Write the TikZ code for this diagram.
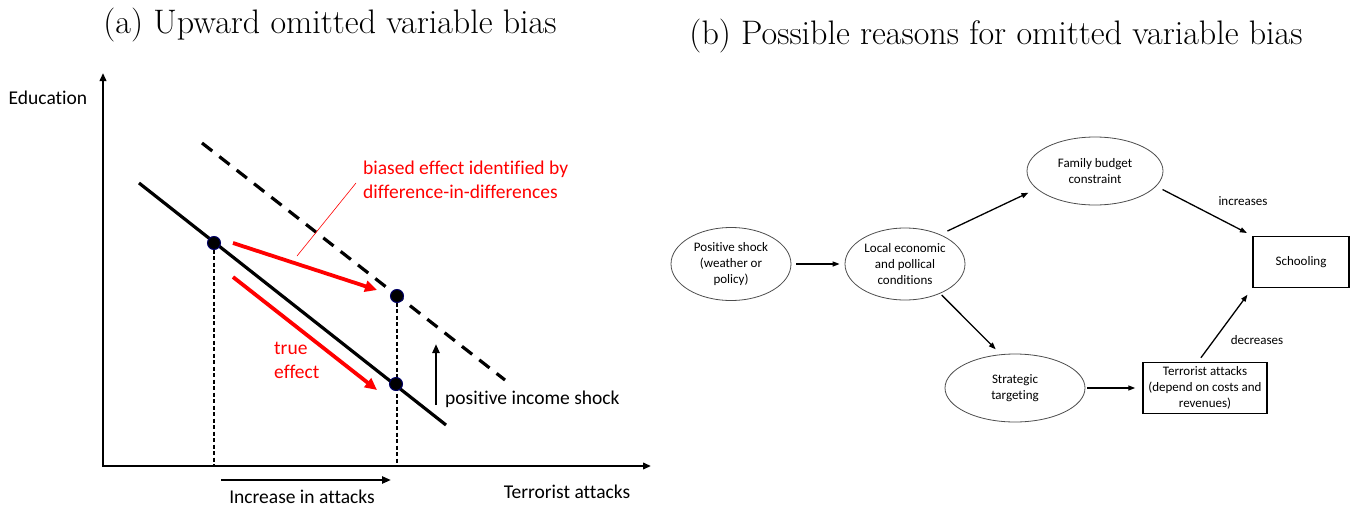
\documentclass[tikz,border=0pt]{standalone}
\usepackage{fontspec}
\newfontfamily\calib[Ligatures=NoCommon]{Carlito}
\usetikzlibrary{arrows.meta,shapes.geometric,positioning}

\tikzset{
  lbl/.style={font=\calib\fontsize{19.5}{24}\selectfont, inner sep=0pt, align=left},
  smalltxt/.style={font=\calib\fontsize{13}{16.3}\selectfont, inner sep=0pt, align=center},
  ttl/.style={font=\fontsize{34}{40}\selectfont, inner sep=0pt, anchor=base},
  axisline/.style={line width=2.4pt, {Triangle[length=8pt,width=6.5pt]}-{Triangle[length=8pt,width=6.5pt]}},
  mainline/.style={line width=3.2pt},
  redarrow/.style={red, line width=3.8pt, -{Triangle[length=12pt,width=11pt]}},
  blackarrow/.style={line width=2.6pt, -{Triangle[length=9pt,width=7pt]}},
  dotnode/.style={circle, fill=black, draw=blue!40!black, line width=1pt, minimum size=13pt, inner sep=0pt},
  drop/.style={line width=1.4pt, dash pattern=on 4pt off 2.5pt},
  ovalnode/.style={ellipse, draw=black!70, line width=0.8pt, smalltxt},
  boxnode/.style={rectangle, draw=black, line width=1.5pt, smalltxt},
  flowarrow/.style={line width=1.3pt, -{Triangle[length=7pt,width=5pt]}}
}

\begin{document}
\begin{tikzpicture}[x=1pt,y=-1pt]
  \useasboundingbox (0,0) rectangle (1352,506);
  % titles
  \node[ttl] (titlea) at (330,33) {(a) Upward omitted variable bias};
  \node[ttl] (titleb) at (996,44) {(b) Possible reasons for omitted variable bias};

  % (a) axes
  \coordinate (o) at (103,466);
  \coordinate (ytop) at (103,73);
  \coordinate (xend) at (651,466);
  \draw[axisline] (ytop) -- (o) -- (xend);
  \node[lbl] (edu) at (48,98) {Education};
  \node[lbl] (tattacks) at (567,492) {Terrorist attacks};
  \node[lbl] (incr) at (302,497) {Increase in attacks};
  \coordinate (in1) at (221,480);
  \coordinate (in2) at (391,480);
  \draw[blackarrow] (in1) -- (in2);

  % lines before and after the shock
  \coordinate (s1) at (139,183);
  \coordinate (s2) at (446,425);
  \coordinate (d1) at (202,143);
  \coordinate (d2) at (505,380);
  \draw[mainline] (s1) -- (s2);
  \draw[mainline, dash pattern=on 13pt off 9pt] (d1) -- (d2);

  % points
  \coordinate (c1) at (214,243);
  \coordinate (c2) at (397,296);
  \coordinate (c3) at (396,384);
  \draw[drop] (c1) -- (c1 |- o);
  \draw[drop] (c2) -- (c2 |- o);
  \node[dotnode] (p1) at (c1) {};
  \node[dotnode] (p2) at (c2) {};
  \node[dotnode] (p3) at (c3) {};

  % effects
  \coordinate (r1s) at (233,243);
  \coordinate (r1e) at (377,290);
  \coordinate (r2s) at (233,277);
  \coordinate (r2e) at (377,390);
  \draw[redarrow] (r1s) -- (r1e);
  \draw[redarrow] (r2s) -- (r2e);
  \node[lbl, red, anchor=west] (truelbl) at (274,360) {true\\effect};
  \node[lbl, red, anchor=west] (biaslbl) at (363,180) {biased effect identified by\\difference-in-differences};
  \coordinate (lead1) at (356,183);
  \coordinate (lead2) at (297,256);
  \draw[red, line width=0.6pt] (lead1) -- (lead2);

  % shock
  \coordinate (sh1) at (436,405);
  \coordinate (sh2) at (436,344);
  \draw[blackarrow] (sh1) -- (sh2);
  \node[lbl, anchor=west] (shocklbl) at (445,399) {positive income shock};

  % (b) channels
  \node[ovalnode, minimum width=120pt, minimum height=73pt] (pos) at (731,264) {Positive shock\\(weather or\\policy)};
  \node[ovalnode, minimum width=120pt, minimum height=72pt] (local) [right of=pos, node distance=174pt] {Local economic\\and pollical\\conditions};
  \node[ovalnode, minimum width=136pt, minimum height=68pt] (family) at (1095,171) {Family budget\\constraint};
  \node[ovalnode, minimum width=140pt, minimum height=68pt] (strat) at (1015,388) {Strategic\\targeting};
  \node[boxnode, minimum width=96pt, minimum height=51pt] (school) at (1301,262) {Schooling};
  \node[boxnode, minimum width=124pt, minimum height=51pt] (terror) at (1205,388) {Terrorist attacks\\(depend on costs and\\revenues)};
  \node[smalltxt] (inclbl) at (1243,201) {increases};
  \node[smalltxt] (declbl) at (1257,340) {decreases};
  \path[flowarrow] (pos) edge[shorten <=5pt, shorten >=5pt] (local)
            (local.40) edge[shorten <=8pt, shorten >=9pt] (family.197)
            (family.-14) edge[shorten <=7pt, shorten >=6pt] (school.north west)
            (local.-40) edge[shorten <=2pt, shorten >=7pt] (strat.113)
            (strat) edge[shorten <=2pt, shorten >=7pt] (terror)
            (terror.105) edge[shorten <=5pt, shorten >=8pt] (school.south west)
            ;
\end{tikzpicture}
\end{document}
